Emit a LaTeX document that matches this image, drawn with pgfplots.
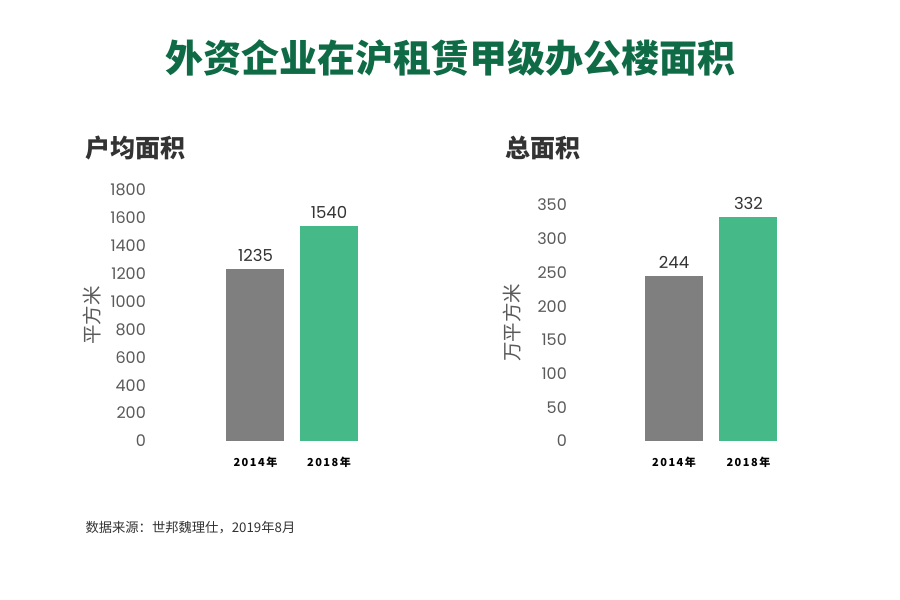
\documentclass[border=0pt]{standalone}
\usepackage{pgfplots}
\pgfplotsset{compat=1.18}
\usepackage{fontspec}
\setmainfont{Poppins}
\newfontfamily\cjk{Noto Sans CJK SC}
\newfontfamily\cjkls{Noto Sans CJK SC}[LetterSpace=14]
\definecolor{titlegreen}{HTML}{0E6B46}
\definecolor{bargray}{HTML}{7F7F80}
\definecolor{bargreen}{HTML}{45B987}
\definecolor{ticktext}{HTML}{5A5A5A}
\definecolor{darktext}{HTML}{333333}
\pgfplotsset{
  common/.style={
    scale only axis,
    ymin=0,
    axis line style={draw=none},
    major tick length=0pt,
    xtick={0,1},
    xticklabels={2014年,2018年},
    xticklabel style={font=\cjkls\bfseries\fontsize{11}{12}\selectfont, text=black, yshift=-13pt},
    yticklabel style={font=\fontsize{16}{18}\selectfont, text=ticktext, inner sep=0pt, xshift=-4pt},
    /pgf/number format/assume math mode=true,
    /pgf/number format/1000 sep={},
    every axis y label/.style={at={(rel axis cs:0,0.5)}, rotate=90, anchor=center, font=\cjk\fontsize{19.5}{21}\selectfont, text=ticktext},
    ybar, bar width=58pt, bar shift=0pt,
    nodes near coords,
    every node near coord/.append style={font=\fontsize{16.5}{18}\selectfont, text=darktext, yshift=4pt, /pgf/number format/1000 sep={}},
  }
}
\begin{document}
\begin{tikzpicture}
\path[use as bounding box, fill=white] (0pt,0pt) rectangle (900pt,600pt);
\node[font=\cjk\bfseries\fontsize{38}{40}\selectfont, text=titlegreen] at (450pt,542pt) {外资企业在沪租赁甲级办公楼面积};
\node[font=\cjk\bfseries\fontsize{25}{27}\selectfont, text=darktext, anchor=west] at (82pt,452pt) {户均面积};
\node[font=\cjk\bfseries\fontsize{25}{27}\selectfont, text=darktext, anchor=west] at (502pt,452pt) {总面积};
\node[font=\cjk\fontsize{13.3}{15}\selectfont, text=darktext, anchor=west] at (82pt,72pt) {数据来源：世邦魏理仕，2019年8月};

\begin{axis}[common, at={(150pt,159pt)}, anchor=south west,
  width=240pt, height=251pt, xmin=-1.435, xmax=1.830, ymax=1800,
  ytick distance=200,
  ylabel={平方米}, ylabel style={yshift=58pt}]
\addplot[fill=bargray, draw=none] coordinates {(0,1235)};
\addplot[fill=bargreen, draw=none] coordinates {(1,1540)};
\end{axis}

\begin{axis}[common, at={(571pt,159pt)}, anchor=south west,
  width=239pt, height=236pt, xmin=-1.383, xmax=1.826, ymax=350,
  ytick distance=50,
  ylabel={万平方米}, ylabel style={yshift=59pt}]
\addplot[fill=bargray, draw=none] coordinates {(0,244)};
\addplot[fill=bargreen, draw=none] coordinates {(1,332)};
\end{axis}
\end{tikzpicture}
\end{document}
